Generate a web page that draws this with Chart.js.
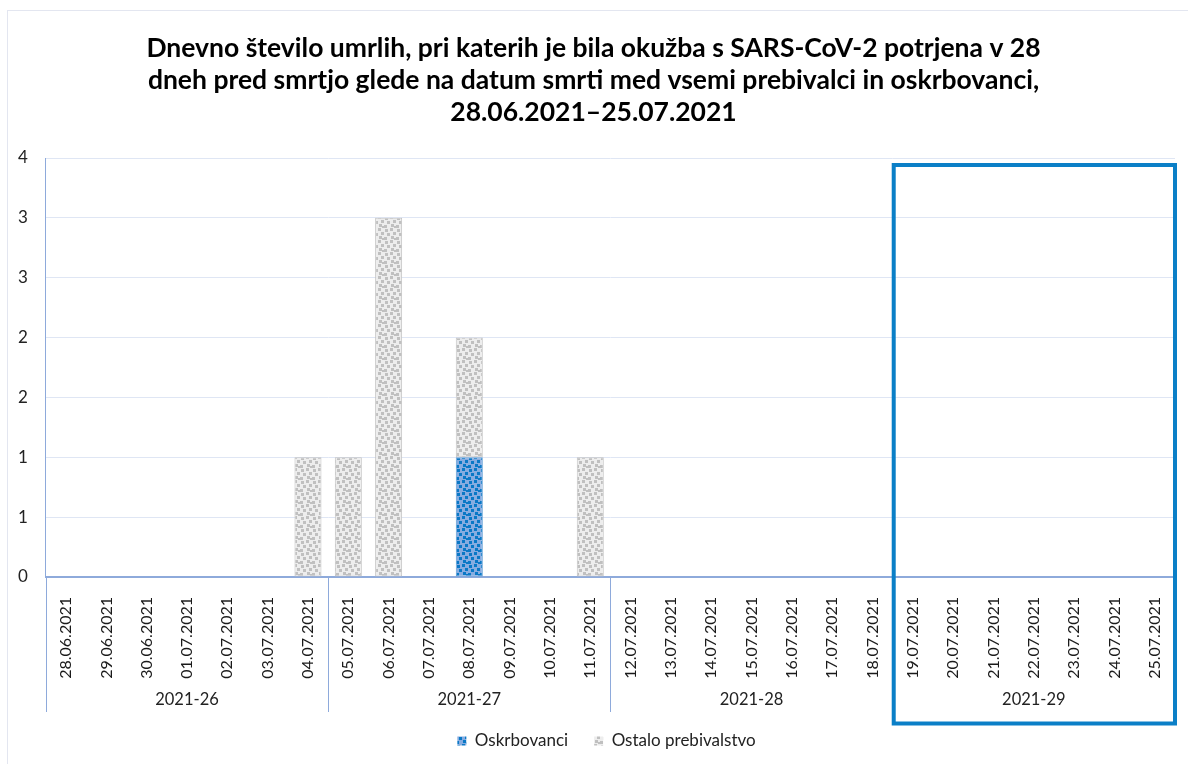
<!DOCTYPE html>
<html>
<head>
<meta charset="utf-8">
<script src="https://cdn.jsdelivr.net/npm/chart.js@4.4.1/dist/chart.umd.min.js"></script>
<style>
html,body{margin:0;padding:0;background:#fff;}
#wrap{position:absolute;left:0;top:0;width:1188px;height:764px;}
</style>
</head>
<body>
<div id="wrap"><canvas id="c" width="1188" height="764"></canvas></div>
<script>
const titleLines = [
  'Dnevno število umrlih, pri katerih je bila okužba s SARS-CoV-2 potrjena v 28',
  'dneh pred smrtjo glede na datum smrti med vsemi prebivalci in oskrbovanci,',
  '28.06.2021–25.07.2021'
];
const dates = [
  '28.06.2021','29.06.2021','30.06.2021','01.07.2021','02.07.2021','03.07.2021','04.07.2021',
  '05.07.2021','06.07.2021','07.07.2021','08.07.2021','09.07.2021','10.07.2021','11.07.2021',
  '12.07.2021','13.07.2021','14.07.2021','15.07.2021','16.07.2021','17.07.2021','18.07.2021',
  '19.07.2021','20.07.2021','21.07.2021','22.07.2021','23.07.2021','24.07.2021','25.07.2021'
];
const weeks = ['2021-26','2021-27','2021-28','2021-29'];
const daysPerWeek = 7;
const highlightedWeek = '2021-29';
const oskrbovanci = [0,0,0,0,0,0,0, 0,0,0,1,0,0,0, 0,0,0,0,0,0,0, 0,0,0,0,0,0,0];
const ostalo      = [0,0,0,0,0,0,1, 1,3,0,1,0,0,1, 0,0,0,0,0,0,0, 0,0,0,0,0,0,0];
const seriesNames = ['Oskrbovanci','Ostalo prebivalstvo'];
const yTicks = {min:0, max:3.5, step:0.5};

const FONT = 'Lato, "Open Sans", sans-serif';

function makePattern(base, dot){
  const s = 12;
  const cv = document.createElement('canvas');
  cv.width = s; cv.height = s;
  const g = cv.getContext('2d');
  g.fillStyle = base; g.fillRect(0,0,s,s);
  g.fillStyle = dot;
  const pts = [[1,1],[6,0],[9,4],[3,5],[7,8],[0,9],[10,10]];
  pts.forEach(p => g.fillRect(p[0], p[1], 3, 3));
  return g.createPattern(cv, 'repeat');
}
const ctx0 = document.getElementById('c').getContext('2d');
const bluePat = makePattern('#86ace0', '#0a78c6');
const grayPat = makePattern('#ededed', '#c0c0c0');

const decorPlugin = {
  id: 'decor',
  afterLayout(chart){
    // shift title and legend horizontally to match the reference centring
    if (chart.titleBlock){ chart.titleBlock.left += 6; chart.titleBlock.right += 6; }
    if (chart.legend){ chart.legend.left += 19; chart.legend.right += 19; }
  },
  beforeDraw(chart){
    const c = chart.ctx;
    c.save();
    c.strokeStyle = '#e3e6f0';
    c.lineWidth = 1;
    c.strokeRect(7.5, 10.5, 1200, 800);
    c.restore();
  },
  afterDraw(chart){
    const c = chart.ctx;
    const x = chart.scales.x, y = chart.scales.y;
    const y0 = y.getPixelForValue(0);
    const sepBottom = y0 + 135;
    c.save();
    c.strokeStyle = '#8eaadb';
    c.lineWidth = 1;
    for (let w = 0; w <= weeks.length; w++){
      const px = Math.round(x.getPixelForValue(w*daysPerWeek - 0.5)) + 0.5;
      c.beginPath(); c.moveTo(px, y0); c.lineTo(px, sepBottom); c.stroke();
    }
    c.fillStyle = '#222';
    c.font = '16.5px ' + FONT;
    c.textAlign = 'center'; c.textBaseline = 'middle';
    weeks.forEach((wk, w) => {
      const cx = x.getPixelForValue(w*daysPerWeek + (daysPerWeek-1)/2);
      c.fillText(wk, cx, y0 + 123);
    });
    const hi = weeks.indexOf(highlightedWeek);
    const left = x.getPixelForValue(hi*daysPerWeek - 0.5);
    const right = x.getPixelForValue((hi+1)*daysPerWeek - 0.5);
    c.strokeStyle = '#0b7fc7';
    c.lineWidth = 4;
    const top = y.getPixelForValue(yTicks.max) + 7;
    c.strokeRect(left + 1, top, right - left - 1, y0 + 146.5 - top);
    c.restore();
  }
};

new Chart(ctx0, {
  type: 'bar',
  data: {
    labels: dates,
    datasets: [
      {label: seriesNames[0], data: oskrbovanci, backgroundColor: bluePat, borderColor: '#5b9bd5',
       borderWidth: c => c.raw ? 1 : 0, borderSkipped: false, barPercentage: 0.67, categoryPercentage: 1},
      {label: seriesNames[1], data: ostalo, backgroundColor: grayPat, borderColor: '#c3c3c3',
       borderWidth: c => c.raw ? 1 : 0, borderSkipped: false, barPercentage: 0.67, categoryPercentage: 1}
    ]
  },
  options: {
    responsive: false,
    animation: false,
    events: [],
    layout: {padding: {left: 0, right: 13, top: 0, bottom: 9.5}},
    plugins: {
      title: {display: true, text: titleLines, color: '#000',
        font: {family: FONT, size: 26.5, weight: 'bold', lineHeight: 32/26.5},
        padding: {top: 32, bottom: 30}},
      legend: {position: 'bottom', maxHeight: 48,
        labels: {boxWidth: 9, boxHeight: 9, padding: 26, color: '#222',
          font: {family: FONT, size: 17}}},
      tooltip: {enabled: false}
    },
    scales: {
      x: {stacked: true,
        grid: {display: false},
        border: {display: true, color: '#8eaadb', width: 2},
        ticks: {autoSkip: false, minRotation: 90, maxRotation: 90, padding: 12, color: '#1a1a1a',
          font: {family: FONT, size: 16}},
        afterFit(scale){ scale.height = 129.5; }
      },
      y: {stacked: true, min: yTicks.min, max: yTicks.max,
        grid: {color: '#dfe6f4', drawTicks: false},
        border: {display: true, color: '#8eaadb', width: 1},
        ticks: {stepSize: yTicks.step, padding: 18, color: '#222',
          font: {family: FONT, size: 17},
          callback: v => Math.round(v)}
      }
    }
  },
  plugins: [decorPlugin]
});
</script>
</body>
</html>
